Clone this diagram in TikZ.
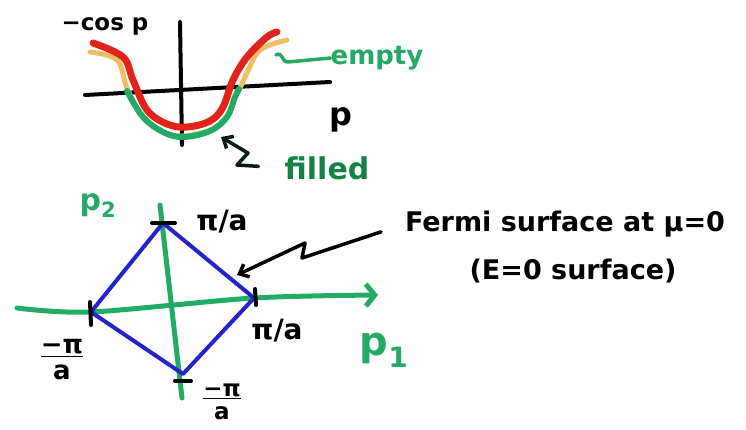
\documentclass[tikz,border=0pt]{standalone}
\usepackage{fontspec}
\setmainfont{DejaVu Sans}
\usetikzlibrary{arrows.meta, positioning, calc}

\definecolor{mkgreen}{RGB}{35,170,100}
\definecolor{mkdkgreen}{RGB}{20,130,70}
\definecolor{mkred}{RGB}{225,35,25}
\definecolor{mkorange}{RGB}{240,190,100}
\definecolor{mkblue}{RGB}{35,35,200}

\begin{document}
\begin{tikzpicture}[x=1pt, y=-1pt,
    marker/.style={line width=4pt, line cap=round, line join=round},
    band/.style={line width=6pt, line cap=round, line join=round},
    lbl/.style={inner sep=0pt, font=\fontsize{#1}{#1}\selectfont\bfseries},
    lbl/.default=24,
    tickmark/.style={line width=4pt, line cap=round},
    arr/.style={-{Straight Barb[length=8pt, width=14pt, line width=3.5pt]}, line width=3.5pt, line join=round, line cap=round}
]
\fill[white] (0,0) rectangle (746,430);
\useasboundingbox (0,0) rectangle (746,430);

% band: -cos p
\coordinate (eL) at (85,95);
\coordinate (eR) at (330,82);
\coordinate (eB) at (182,145);
\coordinate (eT) at (180,22);
\draw[marker] (eL) -- (eR);
\draw[marker] (eB) -- (eT);

\draw[band, mkorange, line width=5pt] plot[smooth, tension=0.6] coordinates {(90,52) (117,60) (127,88) (143,117) (163,132) (183,136) (210,130) (227,117) (235,97) (240,88) (247,73) (260,50) (287,40)};
\draw[band, mkgreen] plot[smooth, tension=0.6] coordinates {(127,91) (143,117) (163,132) (183,137) (210,131) (227,117) (235,97) (239,89)};
\draw[band, mkred, line width=7pt] plot[smooth, tension=0.6] coordinates {(93,43) (123,57) (133,80) (147,110) (167,124) (187,127) (210,121) (223,107) (233,80) (247,57) (267,37) (277,32)};

\node[lbl=23] (cosp) at (105,26) {−cos p};
\node[lbl=32] (pax) at (341,120) {p};
\node[lbl=26, mkgreen] (empty) at (377,58) {empty};
\node[lbl=30, mkdkgreen] (filled) at (327,168) {filled};

\coordinate (emptytip) at (276,55);
\coordinate (filledtip) at (221,137);
\draw[marker, mkgreen, line width=3.5pt] (empty.west) -- (288,62) .. controls (281,62) and (283,51) .. (emptytip);
\draw[arr, black!80!mkdkgreen, shorten <=26pt] (filled.west) -- (237,165) -- (248,153) -- (filledtip);

% Fermi surface
\coordinate (dT) at (163,223);
\coordinate (dR) at (254,298);
\coordinate (dB) at (183,374);
\coordinate (dL) at (91,312);
\coordinate (p1L) at (17,308);
\coordinate (p1R) at (378,295);
\coordinate (p2T) at (160,205);
\coordinate (p2B) at (182,398);

\draw[marker, mkgreen, line width=5pt] (p2T) -- (p2B);
\draw[marker, mkgreen, line width=5pt, -{Straight Barb[length=9pt, width=22pt, line width=5pt]}] plot[smooth, tension=0.5] coordinates {(p1L) (dL) (dR) (p1R)};
\draw[marker, mkblue] (dT) -- (dR) -- (dB) -- (dL) -- cycle;

\draw[tickmark] ($(dT)+(-11,0)$) -- ($(dT)+(12,0)$);
\draw[tickmark] ($(dL)+(-1,-10)$) -- ($(dL)+(0,13)$);
\draw[tickmark] ($(dR)+(1,-9)$) -- ($(dR)+(2,7)$);
\draw[tickmark] ($(dB)+(-8,7)$) -- ($(dB)+(8,7)$);

\node[lbl=30, mkgreen] (ptwo) at (98,206) {p\textsubscript{2}};
\node[lbl=40, mkgreen] (pone) at (384,350) {p\textsubscript{1}};
\node[lbl=28] (piTop) at (222,222) {π/a};
\node[lbl=28] (piRight) at (277,331) {π/a};
\node[lbl=26, align=center] (piLeft) at (62,360) {\underline{−π}\\a};
\node[lbl=23, align=center] (piBottom) at (222,402) {\underline{−π}\\a};

\node[lbl=27] (fermi) at (565,224) {Fermi surface at μ=0};
\node[lbl=27] (fermisub) at (573,271) {(E=0 surface)};
\coordinate (fermitip) at (237,275);
\draw[arr, shorten <=25pt] (fermi.west) -- (302,258) -- (305,243) -- (fermitip);
\end{tikzpicture}
\end{document}
